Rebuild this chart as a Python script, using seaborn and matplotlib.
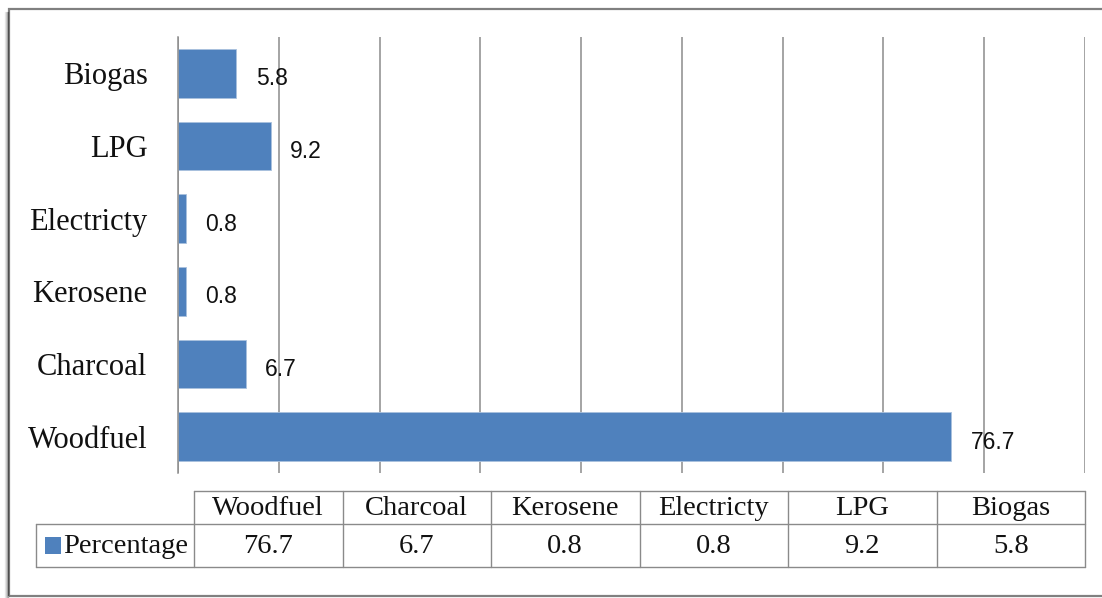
import matplotlib
matplotlib.use("Agg")
import matplotlib.pyplot as plt
import seaborn as sns
import pandas as pd
from matplotlib.patches import Rectangle
from matplotlib.lines import Line2D

# Household cooking fuel shares (%)
fuels = ["Woodfuel", "Charcoal", "Kerosene", "Electricty", "LPG", "Biogas"]
percentages = [76.7, 6.7, 0.8, 0.8, 9.2, 5.8]
series_name = "Percentage"
x_ticks = [0, 10, 20, 30, 40, 50, 60, 70, 80, 90]

BAR_BLUE = "#4F81BD"
GRID_GRAY = "#8c8c8c"
SERIF = ["Liberation Serif", "DejaVu Serif"]
SANS = ["Liberation Sans", "DejaVu Sans"]

sns.set_theme(style="white")
plt.rcParams["font.family"] = SERIF

W, H = 1102, 598
fig = plt.figure(figsize=(W / 100, H / 100), dpi=100)
fig.patch.set_facecolor("white")


def fx(px):
    return px / W


def fy(py):
    return 1 - py / H


# Bar chart area
ax = fig.add_axes([fx(178), fy(473), fx(1085) - fx(178), fy(37) - fy(473)])
df = pd.DataFrame({"fuel": fuels, "pct": percentages})
order = fuels[::-1]
sns.barplot(data=df, y="fuel", x="pct", order=order, orient="h",
            color=BAR_BLUE, saturation=1, width=0.67, ax=ax,
            edgecolor="#a9c1de", linewidth=0.6)

ax.set_xlim(x_ticks[0], x_ticks[-1])
ax.set_ylim(len(order) - 0.5, -0.5)
ax.set_xticks(x_ticks)
ax.set_xticklabels([])
ax.tick_params(axis="x", length=0)
ax.tick_params(axis="y", length=0, pad=22, labelsize=22)
for lbl in ax.get_yticklabels():
    lbl.set_fontfamily(SERIF)
    lbl.set_color("#111111")
ax.set_xlabel("")
ax.set_ylabel("")
ax.grid(axis="x", color=GRID_GRAY, linewidth=1.1)
ax.set_axisbelow(True)
for side in ["top", "right", "bottom"]:
    ax.spines[side].set_visible(False)
ax.spines["left"].set_color(GRID_GRAY)
ax.spines["left"].set_linewidth(1.1)

# Value labels to the right of each bar
for cont in ax.containers:
    for bar, val in zip(cont.patches, cont.datavalues):
        ax.annotate(f"{val:.1f}",
                    xy=(bar.get_x() + bar.get_width(),
                        bar.get_y() + bar.get_height() / 2),
                    xytext=(14, -4), textcoords="offset points",
                    ha="left", va="center", fontsize=16.5, family=SANS,
                    color="#111111")

# Data table under the chart
tab = fig.add_axes([fx(36), fy(567), fx(1085) - fx(36), fy(491) - fy(567)])
tab.set_xlim(36, 1085)
tab.set_ylim(567, 491)
tab.axis("off")
col_left = 194
col_w = (1085 - col_left) / len(fuels)
row_top, row_mid, row_bot = 491, 524, 567
line_kw = dict(color="#8a8a8a", linewidth=1.0, clip_on=False)

# horizontal rules
tab.add_line(Line2D([col_left, 1085], [row_top, row_top], **line_kw))
tab.add_line(Line2D([36, 1085], [row_mid, row_mid], **line_kw))
tab.add_line(Line2D([36, 1085], [row_bot, row_bot], **line_kw))
# vertical rules
tab.add_line(Line2D([36, 36], [row_mid, row_bot], **line_kw))
for i in range(len(fuels) + 1):
    x = col_left + i * col_w
    tab.add_line(Line2D([x, x], [row_top, row_bot], **line_kw))

for i, (name, val) in enumerate(zip(fuels, percentages)):
    cx = col_left + (i + 0.5) * col_w
    tab.text(cx, (row_top + row_mid) / 2 + 1, name, ha="center", va="center",
             fontsize=20.5, family=SERIF, color="#111111")
    tab.text(cx, (row_mid + row_bot) / 2 + 1, f"{val:.1f}", ha="center",
             va="center", fontsize=20.5, family=SERIF, color="#111111")

# legend key inside the table
tab.add_patch(Rectangle((45, 537), 16, 17, facecolor=BAR_BLUE,
                        edgecolor="none", clip_on=False))
tab.text(63, (row_mid + row_bot) / 2 + 1, series_name, ha="left", va="center",
         fontsize=20.5, family=SERIF, color="#111111")

# Outer chart frame with a soft shadow on the left
for k, a in enumerate([0.08, 0.15, 0.25, 0.35]):
    off = 4 - k
    fig.add_artist(Line2D([fx(9 - off), fx(9 - off)], [fy(12), fy(597)],
                          color="black", alpha=a, linewidth=1.0,
                          transform=fig.transFigure))
fig.add_artist(Rectangle((fx(9), fy(596)), fx(1110) - fx(9),
                         fy(9) - fy(596), facecolor="none",
                         edgecolor="#808080", linewidth=1.6,
                         transform=fig.transFigure, clip_on=False))

fig.savefig("out.png", dpi=100, facecolor="white")
